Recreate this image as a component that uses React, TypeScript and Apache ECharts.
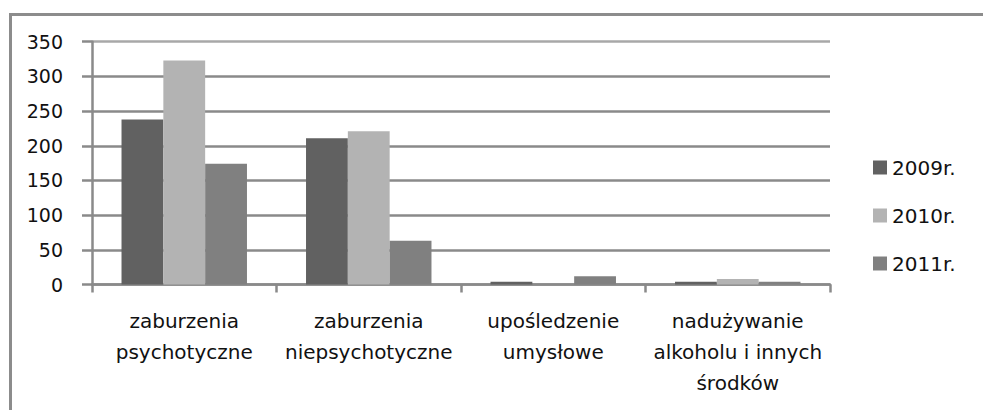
import React, { useEffect, useRef } from "react";
import * as echarts from "echarts";

const categories = [
  "zaburzenia\npsychotyczne",
  "zaburzenia\nniepsychotyczne",
  "upośledzenie\numysłowe",
  "nadużywanie\nalkoholu i innych\nśrodków",
];
const seriesNames = ["2009r.", "2010r.", "2011r."];
const values2009 = [238, 211, 4, 4];
const values2010 = [323, 221, 0, 8];
const values2011 = [174, 63, 12, 4];
const yTicks = [0, 50, 100, 150, 200, 250, 300, 350];
const colors = ["#616161", "#b3b3b3", "#808080"];

const FONT = "DejaVu Sans";

export default function App() {
  const ref = useRef<HTMLDivElement>(null);
  useEffect(() => {
    document.body.style.margin = "0";
    const chart = echarts.init(ref.current!, null, { renderer: "svg" });
    const data = [values2009, values2010, values2011];
    const gridColors = yTicks.map((_, i) => (i === yTicks.length - 1 ? "#a8a8a8" : "#8a8a8a"));
    chart.setOption({
      animation: false,
      backgroundColor: "#ffffff",
      textStyle: { fontFamily: FONT },
      grid: { left: 92, top: 41.7, width: 738, height: 242.8, containLabel: false },
      legend: {
        orient: "vertical",
        left: 868,
        top: 152,
        itemWidth: 14,
        itemHeight: 14,
        itemGap: 27,
        icon: "rect",
        textStyle: { fontSize: 20, color: "#111", fontFamily: FONT, lineHeight: 21 },
        data: seriesNames,
      },
      xAxis: {
        type: "category",
        data: categories,
        boundaryGap: true,
        axisLine: { lineStyle: { color: "#8a8a8a", width: 2.5 } },
        axisTick: { show: true, length: 8, lineStyle: { color: "#8a8a8a", width: 2.5 } },
        axisLabel: {
          interval: 0,
          margin: 21,
          fontSize: 20,
          lineHeight: 31,
          color: "#111",
          fontFamily: FONT,
        },
      },
      yAxis: {
        type: "value",
        min: 0,
        max: 350,
        interval: 50,
        axisLine: { show: true, lineStyle: { color: "#8a8a8a", width: 2.5 } },
        axisTick: { show: true, length: 10, lineStyle: { color: "#8a8a8a", width: 2.5 } },
        splitLine: { show: true, lineStyle: { color: gridColors, width: 2.5 } },
        axisLabel: { margin: 29, fontSize: 19, color: "#111", fontFamily: FONT },
      },
      series: seriesNames.map((name, i) => ({
        name,
        type: "bar",
        data: data[i],
        barGap: "0%",
        barCategoryGap: "32%",
        itemStyle: { color: colors[i] },
      })),
      graphic: [
        {
          type: "rect",
          left: 8,
          top: 12,
          shape: { x: 0, y: 0, width: 1000, height: 500 },
          style: { fill: "none", stroke: "#8c8c8c", lineWidth: 3 },
          silent: true,
        },
      ],
    });
    return () => chart.dispose();
  }, []);
  return <div ref={ref} style={{ width: 983, height: 410 }} />;
}
